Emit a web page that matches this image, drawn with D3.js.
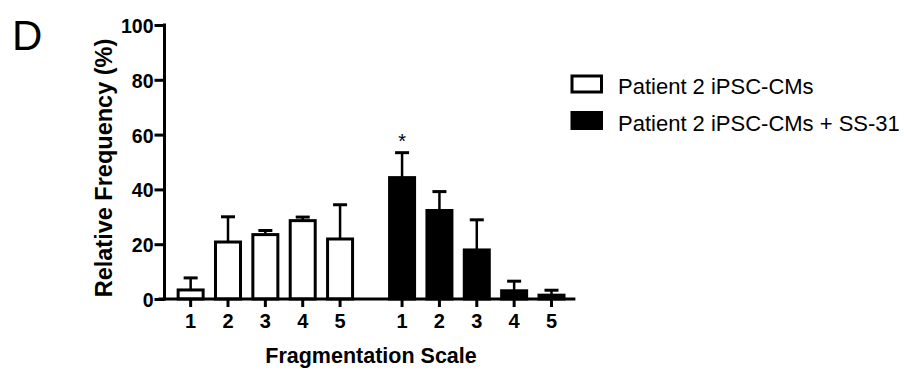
<!DOCTYPE html>
<html>
<head>
<meta charset="utf-8">
<script src="https://cdn.jsdelivr.net/npm/d3@7"></script>
<style>
  html, body { margin: 0; padding: 0; background: #fff; }
  svg { display: block; }
  text { font-family: "Liberation Sans", Arial, Helvetica, sans-serif; fill: #000; }
</style>
</head>
<body>
<svg id="chart" width="904" height="376"></svg>
<script>
// Fragmentation scale categories (same for both groups)
const categories = ["1", "2", "3", "4", "5"];
const seriesNames = ["Patient 2 iPSC-CMs", "Patient 2 iPSC-CMs + SS-31"];
// Mean relative frequency (%) per category
const untreatedMeans = [3.3, 20.8, 23.5, 28.6, 21.9];
const treatedMeans = [44.3, 32.3, 17.9, 3.0, 1.4];
// Upper error (SD) bar ends (%)
const untreatedErrTop = [7.7, 30.0, 25.0, 29.9, 34.4];
const treatedErrTop = [53.4, 39.2, 28.9, 6.5, 3.2];
// Significance markers above bars
const treatedMarks = ["*", "", "", "", ""];
const yTicks = [0, 20, 40, 60, 80, 100];

const svg = d3.select("#chart");

// Layout
const groupGap = 0.66;           // extra slots between the two groups
const barW = 25;                  // inner bar width (stroke adds 3px)
const x = d3.scaleLinear().domain([-0.7, 10.3]).range([164.5, 575.4]);
const y = d3.scaleLinear().domain([0, 100]).range([299, 25]);

const rows = [];
[untreatedMeans, treatedMeans].forEach((means, g) => {
  const errs = g === 0 ? untreatedErrTop : treatedErrTop;
  means.forEach((v, i) => {
    rows.push({
      g, cat: categories[i], v, err: errs[i],
      mark: g === 1 ? treatedMarks[i] : "",
      slot: i + g * (categories.length + groupGap)
    });
  });
});

// Error bars (drawn first so bar tops sit over the stem)
const eb = svg.append("g").attr("stroke", "#000").attr("stroke-width", 2.5);
eb.selectAll("line.stem").data(rows).join("line")
  .attr("x1", d => x(d.slot)).attr("x2", d => x(d.slot))
  .attr("y1", d => y(d.v)).attr("y2", d => y(d.err));
eb.selectAll("line.cap").data(rows).join("line")
  .attr("stroke-width", 3)
  .attr("x1", d => x(d.slot) - 7).attr("x2", d => x(d.slot) + 7)
  .attr("y1", d => y(d.err)).attr("y2", d => y(d.err));

// Bars
svg.append("g").selectAll("rect").data(rows).join("rect")
  .attr("x", d => x(d.slot) - barW / 2)
  .attr("width", barW)
  .attr("y", d => y(d.v))
  .attr("height", d => y(0) - y(d.v))
  .attr("fill", d => d.g === 0 ? "#fff" : "#000")
  .attr("stroke", "#000")
  .attr("stroke-width", 3);

// Significance markers
svg.append("g").selectAll("text").data(rows.filter(d => d.mark)).join("text")
  .attr("x", d => x(d.slot))
  .attr("y", d => y(d.err) - 5)
  .attr("text-anchor", "middle")
  .attr("font-size", 20)
  .text(d => d.mark);

// Y axis
const yAxis = svg.append("g").attr("transform", `translate(${x(-0.7)},0)`)
  .call(d3.axisLeft(y).tickValues(yTicks).tickSize(10).tickPadding(1));
yAxis.select(".domain").attr("stroke-width", 3).attr("d", `M0,${y(100) - 1.5}V${y(0) + 1.5}`);
yAxis.selectAll(".tick line").attr("stroke-width", 3);
yAxis.selectAll(".tick text")
  .attr("font-size", 19.5).attr("font-weight", "bold")
  .attr("dy", "0.38em")
  .style("font-family", '"Liberation Sans", Arial, sans-serif');

// X axis with category ticks in both groups
const xAxisG = svg.append("g").attr("transform", `translate(0,${y(0)})`);
xAxisG.append("line")
  .attr("x1", x(-0.7) - 6).attr("x2", x(10.3))
  .attr("stroke", "#000").attr("stroke-width", 3);
const ticks = xAxisG.selectAll("g.tick").data(rows).join("g")
  .attr("class", "tick")
  .attr("transform", d => `translate(${x(d.slot)},0)`);
ticks.append("line").attr("y1", 0).attr("y2", 8).attr("stroke", "#000").attr("stroke-width", 3);
ticks.append("text")
  .attr("y", 29).attr("text-anchor", "middle")
  .attr("font-size", 20).attr("font-weight", "bold")
  .text(d => d.cat);

// Axis titles
svg.append("text")
  .attr("x", 371).attr("y", 363)
  .attr("text-anchor", "middle")
  .attr("font-size", 21.5).attr("font-weight", "bold")
  .text("Fragmentation Scale");
svg.append("text")
  .attr("transform", "translate(112,168) rotate(-90)")
  .attr("text-anchor", "middle")
  .attr("font-size", 23.5).attr("font-weight", "bold")
  .text("Relative Frequency (%)");

// Panel letter
svg.append("text")
  .attr("x", 12).attr("y", 50)
  .attr("font-size", 42)
  .text("D");

// Legend
const legend = svg.append("g").selectAll("g").data(seriesNames).join("g")
  .attr("transform", (d, i) => `translate(572,${76 + i * 36.5})`);
legend.append("rect")
  .attr("x", 0).attr("y", 0).attr("width", 29.5).attr("height", 16)
  .attr("fill", (d, i) => i === 0 ? "#fff" : "#000")
  .attr("stroke", "#000").attr("stroke-width", 3);
legend.append("text")
  .attr("x", 46).attr("y", 18)
  .attr("font-size", 22)
  .text(d => d);
</script>
</body>
</html>
